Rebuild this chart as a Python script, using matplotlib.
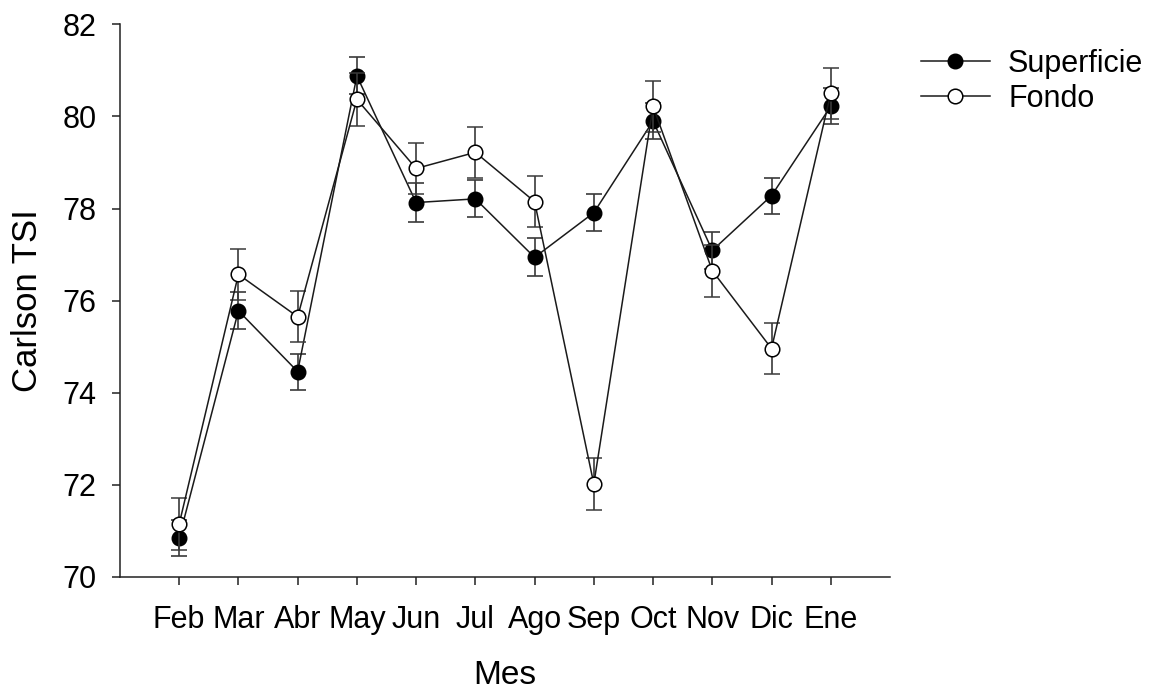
import matplotlib
matplotlib.use("Agg")
import matplotlib.pyplot as plt
import numpy as np

plt.rcParams['font.family'] = ['Liberation Sans', 'DejaVu Sans']

meses = ["Feb", "Mar", "Abr", "May", "Jun", "Jul", "Ago", "Sep", "Oct", "Nov", "Dic", "Ene"]

superficie = [70.85, 75.78, 74.46, 80.88, 78.13, 78.21, 76.94, 77.91, 79.90, 77.09, 78.28, 80.22]
superficie_err = [0.39, 0.40, 0.39, 0.40, 0.42, 0.40, 0.41, 0.40, 0.40, 0.40, 0.39, 0.39]

fondo = [71.15, 76.57, 75.65, 80.37, 78.87, 79.22, 78.15, 72.02, 80.22, 76.65, 74.96, 80.50]
fondo_err = [0.56, 0.56, 0.55, 0.57, 0.56, 0.55, 0.55, 0.56, 0.55, 0.56, 0.56, 0.56]

x = np.arange(len(meses))

fig = plt.figure(figsize=(11.5, 6.89), dpi=100)
ax = fig.add_axes([0.1043, 0.1626, 0.6696, 0.8021])

ax.errorbar(x, superficie, yerr=superficie_err, fmt='o-', color='#1a1a1a',
            ecolor='#3a3a3a', elinewidth=1.2, capsize=6, capthick=1.2,
            markersize=10.5, markerfacecolor='black', markeredgecolor='black',
            linewidth=1.1, label='Superficie', zorder=3)
ax.errorbar(x, fondo, yerr=fondo_err, fmt='o-', color='#1a1a1a',
            ecolor='#3a3a3a', elinewidth=1.2, capsize=6, capthick=1.2,
            markersize=10.5, markerfacecolor='white', markeredgecolor='black',
            markeredgewidth=1.1, linewidth=1.1, label='Fondo', zorder=4)

ax.set_xlim(-1, 12)
ax.set_ylim(70, 82)
ax.set_xticks(x)
ax.set_xticklabels(meses)
ax.set_yticks(np.arange(70, 83, 2))

for side in ['top', 'right']:
    ax.spines[side].set_visible(False)
for side in ['left', 'bottom']:
    ax.spines[side].set_linewidth(1.1)
    ax.spines[side].set_color('#222222')

ax.tick_params(axis='both', labelsize=22, direction='out', length=6, width=1.1,
               color='#222222')
ax.tick_params(axis='y', pad=11)
ax.tick_params(axis='x', pad=14)

ax.set_ylabel("Carlson TSI", fontsize=25, labelpad=13)
ax.set_xlabel("Mes", fontsize=24, labelpad=18)

handles, labels = ax.get_legend_handles_labels()
handles = [h[0] for h in handles]
fig.legend(handles, labels, loc='upper left', bbox_to_anchor=(921 / 1150, 1 - 49 / 689),
           frameon=False, fontsize=22, handlelength=2.25, handletextpad=0.6,
           labelspacing=0.15, borderpad=0, borderaxespad=0)

fig.savefig("out.png", dpi=100)
